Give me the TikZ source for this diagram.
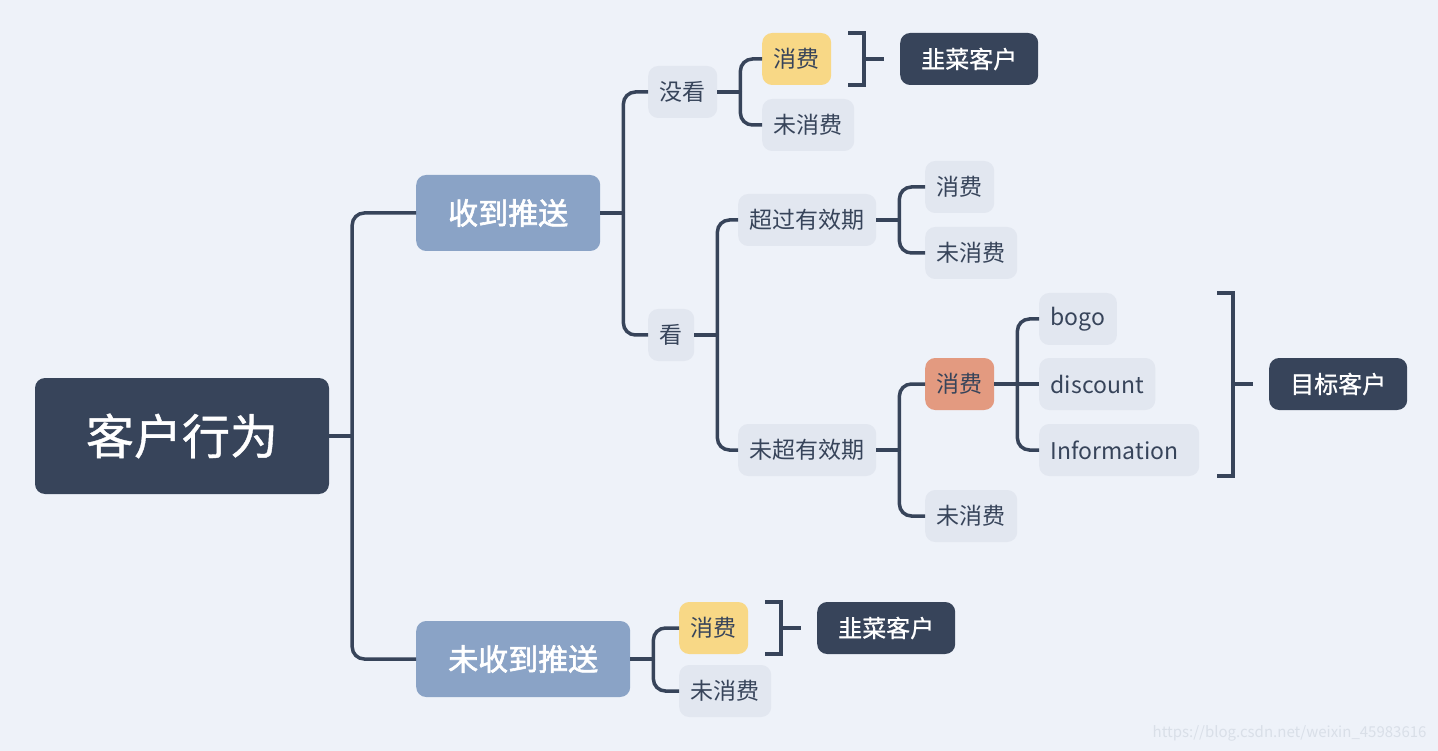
\documentclass[tikz,border=0pt]{standalone}
\usepackage{fontspec}
\setmainfont{Noto Sans CJK SC}
\newfontfamily\medfont[FakeBold=0.8]{Noto Sans CJK SC}
\newfontfamily\semifont[FakeBold=2]{Noto Sans CJK SC}
\usetikzlibrary{positioning,calc}
\definecolor{MapDark}{HTML}{37445A}
\definecolor{MapBlue}{HTML}{8AA3C6}
\definecolor{MapLeaf}{HTML}{E2E7F0}
\definecolor{MapBack}{HTML}{EEF2F9}
\definecolor{MapYellow}{HTML}{F8D886}
\definecolor{MapSalmon}{HTML}{E39A80}
\definecolor{MapMark}{HTML}{D9DFE8}

\begin{document}
\begin{tikzpicture}[
    x=1pt,y=-1pt,
    base/.style={rounded corners=10pt,inner sep=0pt,align=center},
    root/.style={base,fill=MapDark,text=white,minimum width=294pt,minimum height=116pt,font=\fontsize{48}{54}\medfont},
    topic/.style={base,fill=MapBlue,text=white,inner xsep=32pt,minimum height=76pt,font=\fontsize{30}{34}\semifont},
    leaf/.style={base,fill=MapLeaf,text=MapDark,inner xsep=11.5pt,minimum height=52pt,font=\fontsize{23}{27}\selectfont},
    result/.style={base,fill=MapDark,text=white,inner xsep=21pt,minimum height=52pt,font=\fontsize{24}{28}\medfont},
    conn/.style={draw=MapDark,line width=3.5pt,rounded corners=12pt},
    grp/.style={draw=MapDark,line width=3.5pt}
  ]
    \fill[MapBack] (0,0) rectangle (1438,751);
    \useasboundingbox (0,0) rectangle (1438,751);

    % nodes
    \node[root] (cust) at (182,436) {客户行为};
    \node[topic,anchor=west] (recv) at (416,213) {收到推送};
    \node[topic,anchor=west] (norecv) at (416,659) {未收到推送};

    \node[leaf,anchor=west] (unseen) at (648,92) {没看};
    \node[leaf,anchor=west] (seen) at (648,335) {看};
    \node[leaf,anchor=west,fill=MapYellow] (unseenbuy) at (762,59) {消费};
    \node[leaf,anchor=west] (unseennobuy) at (762,125) {未消费};
    \node[result,anchor=west] (leek1) at (900,59) {韭菜客户};

    \node[leaf,anchor=west] (expired) at (738,220) {超过有效期};
    \node[leaf,anchor=west] (expbuy) at (925,187) {消费};
    \node[leaf,anchor=west] (expnobuy) at (925,253) {未消费};

    \node[leaf,anchor=west] (valid) at (738,450) {未超有效期};
    \node[leaf,anchor=west,fill=MapSalmon] (validbuy) at (925,384) {消费};
    \node[leaf,anchor=west] (validnobuy) at (925,516) {未消费};
    \node[leaf,anchor=west] (bogo) at (1039,319) {bogo};
    \node[leaf,anchor=west] (disc) at (1039,384) {discount};
    \node[leaf,anchor=west,text width=137pt,align=left] (info) at (1039,450) {Information};
    \node[result,anchor=west] (target) at (1269,384) {目标客户};

    \node[leaf,anchor=west,fill=MapYellow] (nrbuy) at (679,628) {消费};
    \node[leaf,anchor=west] (nrnobuy) at (679,691) {未消费};
    \node[result,anchor=west] (leek2) at (817,628) {韭菜客户};

    \node[anchor=east,text=MapMark,font=\fontsize{15}{17}\selectfont] (mark) at (1430,733) {https://blog.csdn.net/weixin\_45983616};

    % branches
    \foreach \p/\a/\b in {cust/recv/norecv, recv/unseen/seen, unseen/unseenbuy/unseennobuy,
        seen/expired/valid, expired/expbuy/expnobuy, valid/validbuy/validnobuy,
        norecv/nrbuy/nrnobuy, validbuy/bogo/info} {
      \coordinate (j) at ($(\p.east)+(23,0)$);
      \draw[conn] (\p.east) -- (j);
      \draw[conn] (j) |- (\a.west);
      \draw[conn] (j) |- (\b.west);
    }
    \draw[conn] (validbuy.east) -- (disc.west);

    % brackets
    \foreach \t/\b/\r in {unseenbuy/unseenbuy/leek1, bogo/info/target, nrbuy/nrbuy/leek2} {
      \draw[grp] ($(\t.north -| \r.west)+(-52,0)$) -| ($(\b.south -| \r.west)+(-36,0)$) -- ++(-16,0);
      \draw[grp] ($(\r.west)+(-36,0)$) -- ($(\r.west)+(-16,0)$);
    }
  \end{tikzpicture}
\end{document}
